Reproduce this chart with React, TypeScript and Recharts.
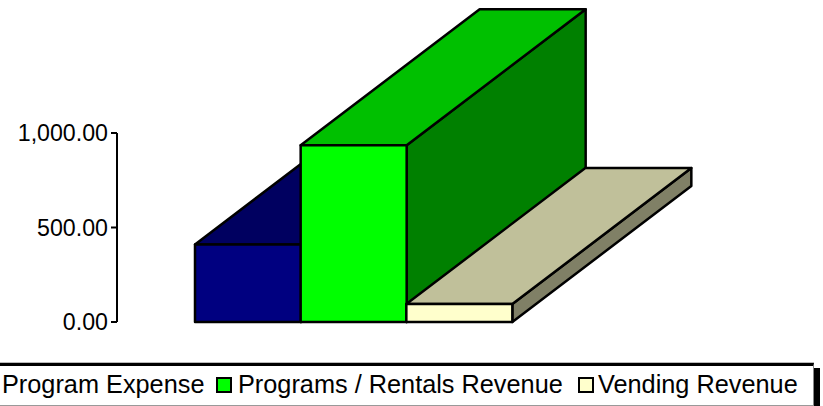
import { Bar, BarChart, Cell, XAxis, YAxis } from "recharts";

const categories = ["Program Expense", "Programs / Rentals Revenue", "Vending Revenue"];
const values = [410, 935, 95];
const yTicks = [0, 500, 1000];

// front, top, side
const frontColors = ["#000080", "#00FF00", "#FFFFCC"];
const topColors = ["#000060", "#00C000", "#C0C09A"];
const sideColors = ["#000040", "#008000", "#808066"];

const depthX = 179;
const depthY = 136;
const fontFamily = "'Liberation Sans', Arial, sans-serif";

// legend layout, first swatch falls off the left edge like in the original
const swatchLeft = [-20, 216, 578];
const labelLeft = [2, 238, 598];

const data = categories.map((name, i) => ({ name, value: values[i] }));

function Box3D(props: any) {
  const { x, y, width, height, index } = props;
  const r = x + width;
  const b = y + height;
  const line = { stroke: "#000", strokeWidth: 2.5, strokeLinejoin: "round" as const };
  return (
    <g>
      <polygon
        points={`${r},${y} ${r + depthX},${y - depthY} ${r + depthX},${b - depthY} ${r},${b}`}
        fill={sideColors[index]}
        {...line}
      />
      <polygon
        points={`${x},${y} ${x + depthX},${y - depthY} ${r + depthX},${y - depthY} ${r},${y}`}
        fill={topColors[index]}
        {...line}
      />
      <rect x={x} y={y} width={width} height={height} fill={frontColors[index]} {...line} />
    </g>
  );
}

function LegendBox() {
  return (
    <div
      style={{
        position: "absolute",
        left: -40,
        top: 363,
        width: 854,
        height: 43,
        boxSizing: "border-box",
        background: "#fff",
        borderTop: "3px solid #000",
        borderRight: "1px solid #888",
        borderBottom: "1px solid #999",
        boxShadow: "0 -1px 0 #bbb",
        fontFamily,
        fontSize: 25.3,
        color: "#000",
        whiteSpace: "nowrap",
      }}
    >
      {categories.map((name, i) => (
        <div key={name}>
          <span
            style={{
              position: "absolute",
              left: swatchLeft[i] + 40,
              top: 11,
              width: 16,
              height: 16,
              boxSizing: "border-box",
              border: "2px solid #000",
              background: frontColors[i],
            }}
          />
          <span style={{ position: "absolute", left: labelLeft[i] + 40, top: 3, lineHeight: "30px" }}>{name}</span>
        </div>
      ))}
    </div>
  );
}

export default function App() {
  return (
    <div style={{ position: "absolute", left: 0, top: 0, width: 823, height: 406, overflow: "hidden", background: "#fff" }}>
      <BarChart
        width={823}
        height={406}
        data={data}
        barCategoryGap={0}
        margin={{ top: 133, right: 311, bottom: 84, left: 17 }}
      >
        <XAxis dataKey="name" hide padding={{ left: 78, right: 0 }} />
        <YAxis
          width={100}
          domain={[0, 1000]}
          ticks={yTicks}
          tickSize={6}
          tickMargin={3}
          axisLine={{ stroke: "#000", strokeWidth: 2 }}
          tickLine={{ stroke: "#000", strokeWidth: 2 }}
          tick={{ fill: "#000", fontSize: 23.2, fontFamily }}
          tickFormatter={(v: number) => v.toLocaleString("en-US", { minimumFractionDigits: 2 })}
        />
        <Bar dataKey="value" isAnimationActive={false} shape={<Box3D />}>
          {data.map((d, i) => (
            <Cell key={d.name} fill={frontColors[i]} />
          ))}
        </Bar>
      </BarChart>
      <LegendBox />
      <div style={{ position: "absolute", left: 814, top: 368, width: 6, height: 38, background: "#000" }} />
    </div>
  );
}
